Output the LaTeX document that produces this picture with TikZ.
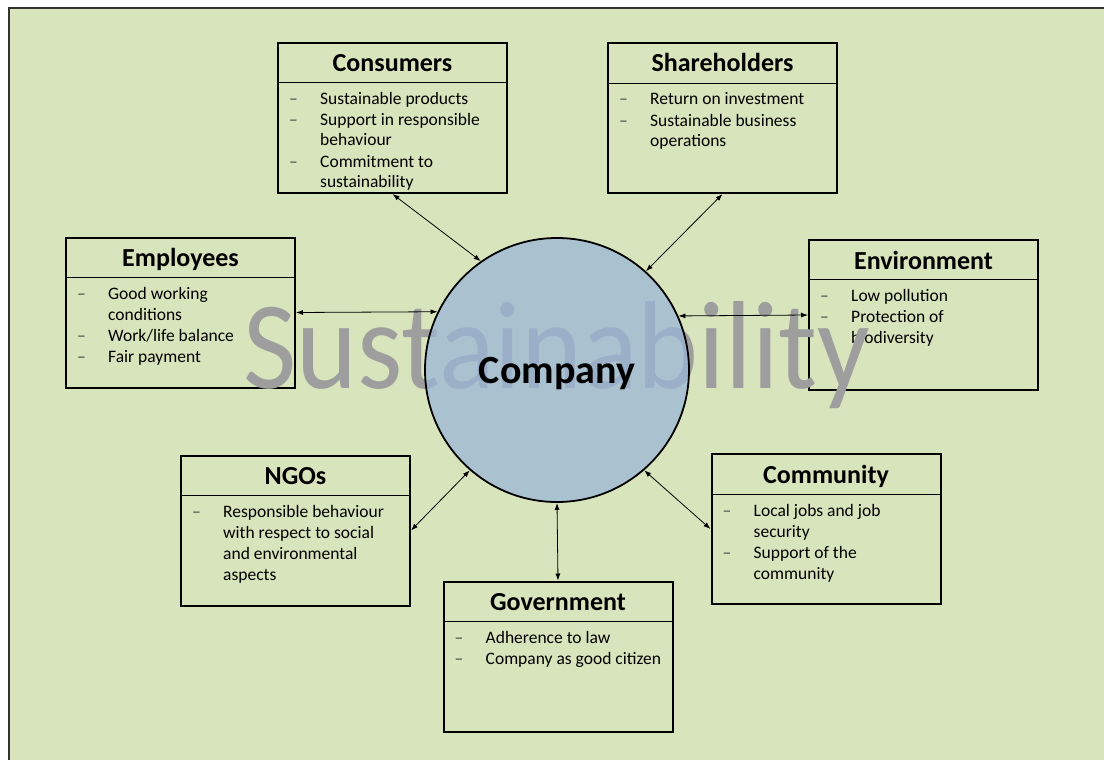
\documentclass[tikz,border=0pt]{standalone}
\usepackage{fontspec}
\setmainfont{Carlito}
\usetikzlibrary{arrows.meta}
\definecolor{bggreen}{RGB}{216,228,188}
\definecolor{circblue}{RGB}{155,183,215}
\definecolor{wmgray}{RGB}{158,158,158}
\definecolor{dashgray}{RGB}{70,70,70}
\newcommand{\itm}{\textcolor{dashgray}{–}}
\tikzset{
  sbox/.style={draw=black, line width=2pt, minimum width=229pt, minimum height=150pt, inner sep=0pt},
  stitle/.style={anchor=base, inner sep=0pt, font=\fontsize{26}{28}\selectfont\bfseries},
  sitems/.style={anchor=base west, inner sep=0pt, font=\fontsize{17.5}{21}\selectfont},
  sep/.style={line width=0.9pt},
  link/.style={line width=0.8pt, {Latex[length=7pt,width=5pt]}-{Latex[length=7pt,width=5pt]}}
}
\newcommand{\stake}[7]{%
  % #1 name, #2 center x, #3 center y, #4 header y, #5 title, #6 items, #7 first baseline y
  \node[sbox] (#1) at (#2,#3) {};
  \draw[sep] (#1.west |- 0,#4) -- (#1.east |- 0,#4);
  \node[stitle] (#1-t) at ([yshift=-30pt]#1.north) {#5};
  \node[sitems] (#1-i) at ([xshift=12pt]#1.west |- 0,#7) {\begin{tabular}[t]{@{}p{31pt}@{}l@{}}#6\end{tabular}};
}
\begin{document}
\begin{tikzpicture}[x=1pt,y=-1pt]
\useasboundingbox (0,0) rectangle (1104,760);
\fill[white] (0,0) rectangle (1104,760);
\fill[bggreen] (9,8) rectangle (1120,780);
\draw[line width=2pt, black!80] (9,780) -- (9,8) -- (1120,8);

\stake{cons}{392.5}{118}{82}{Consumers}{\itm & Sustainable products\\ \itm & Support in responsible\\ & behaviour\\ \itm & Commitment to\\ & sustainability}{104}
\stake{shar}{722.5}{118}{83}{Shareholders}{\itm & Return on investment\\ \itm & Sustainable business\\ & operations}{105}
\stake{emp}{180.5}{312.5}{277}{Employees}{\itm & Good working\\ & conditions\\ \itm & Work/life balance\\ \itm & Fair payment}{299}
\stake{env}{923.5}{315}{279}{Environment}{\itm & Low pollution\\ \itm & Protection of\\ & biodiversity}{301}
\stake{ngo}{295.5}{530.5}{495}{NGOs}{\itm & Responsible behaviour\\ & with respect to social\\ & and environmental\\ & aspects}{517}
\stake{com}{826}{529}{494}{Community}{\itm & Local jobs and job\\ & security\\ \itm & Support of the\\ & community}{516}
\stake{gov}{558}{656.5}{621}{Government}{\itm & Adherence to law\\ \itm & Company as good citizen}{643}

\node[anchor=base, inner sep=0pt, text=wmgray, font=\fontsize{116}{116}\selectfont] (wm) at (557,388) {\scalebox{1}[1.08]{Sustainability}};

\node[circle, draw=black, line width=1.8pt, fill=circblue, fill opacity=0.75, minimum size=264pt, inner sep=0pt] (comp) at (557,370) {};
\node[anchor=base, inner sep=0pt, font=\fontsize{40}{42}\selectfont\bfseries] (compt) at (557,383) {Company};

\draw[link] (cons.south) -- (comp.125);
\draw[link] (shar.south) -- (comp.48);
\draw[link] (emp.east) -- (comp.154);
\draw[link] (env.west) -- (comp.24);
\draw[link] (ngo.east) -- (comp.229);
\draw[link] (com.west) -- (comp.311.7);
\draw[link] (gov.north) -- (comp.south);
\end{tikzpicture}
\end{document}
